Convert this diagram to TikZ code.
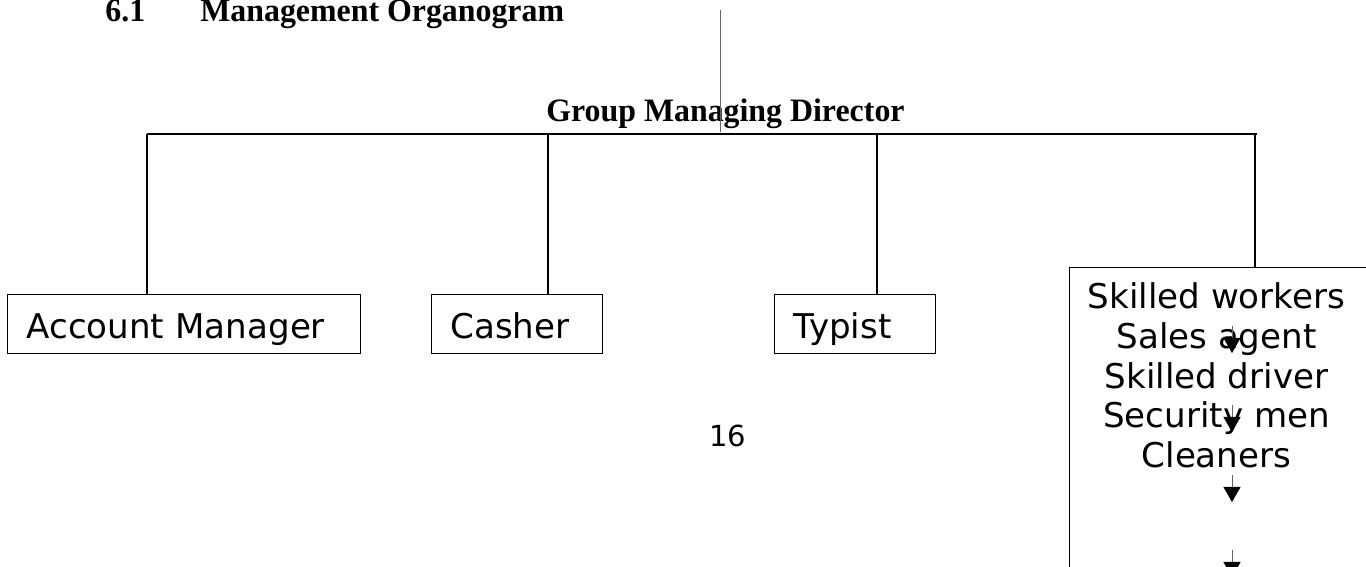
\documentclass[tikz,border=0pt]{standalone}
\usepackage{fontspec}
\setmainfont{Liberation Serif}
\newfontfamily\boxfont{DejaVu Sans}
\newfontfamily\headfont[FakeStretch=0.975]{Liberation Serif Bold}
\usepackage{tikz}
\usetikzlibrary{arrows.meta}

\tikzset{
    orgbox/.style={
        draw,
        line width=0.6pt,
        anchor=north west,
        inner xsep=0.38cm,
        inner ysep=0pt,
        text height=0.88cm,
        text depth=0.30cm,
        text width=#1,
        align=left,
        font=\boxfont\fontsize{19.4}{22.7}\selectfont
    },
    link/.style={
        line width=0.6pt,
        black
    },
    headtext/.style={
        anchor=base west,
        inner sep=0pt,
        font=\headfont\fontsize{18.6}{20}\selectfont
    },
    downarrow/.style={
        -{Triangle[width=0.34cm,length=0.30cm,black]},
        line width=0.5pt,
        black!60
    }
}

\begin{document}
\begin{tikzpicture}

\path[use as bounding box] (0,0) rectangle (27.32,11.34);
\clip (0,0) rectangle (27.32,11.34);

% ---------------- CAPCALERA ----------------

\node[headtext] (titlenum) at (2.1,10.91) {6.1};
\node[headtext] (titletext) at (4.0,10.91) {Management Organogram};

\node[headtext] (gmd) at (10.92,8.9) {Group Managing Director};

% linia vertical fina
\draw[
    line width=0.5pt,
    black!60
] (14.4,11.14) -- (14.4,8.70);


% ---------------- CAIXES ----------------

\node[orgbox=6.30cm] (accmgr) at (0.14,5.46) {Account Manager};
\node[orgbox=2.66cm] (casher) at (8.62,5.46) {Casher};
\node[orgbox=2.46cm] (typist) at (15.48,5.46) {Typist};

% caixa gran (talla per la dreta i per baix)
\node[
    draw,
    line width=0.6pt,
    anchor=north west,
    minimum width=6.1cm,
    minimum height=6.4cm
] (staffbox) at (21.38,6.0) {};

\node[
    anchor=north,
    inner sep=0pt,
    align=center,
    font=\boxfont\fontsize{19.4}{22.7}\selectfont
] (stafflist) at (24.33,5.70) {Skilled workers\\Sales agent\\Skilled driver\\Security men\\Cleaners};


% ---------------- CONNEXIONS ----------------

\draw[link] (2.94,8.66) -- (25.14,8.66);

\foreach \tap/\unit in {2.94/accmgr, 10.96/casher, 17.54/typist, 25.10/staffbox}
    \draw[link] (\tap,8.66) -- (\tap,0 |- \unit.north);

% fletxes petites
\foreach \ytop in {4.82, 3.24, 1.84, 0.34}
    \draw[downarrow] (24.64,\ytop) -- ++(0,-0.54);


% ---------------- PAGINA ----------------

\node[
    anchor=base,
    inner sep=0pt,
    font=\boxfont\fontsize{16.5}{19}\selectfont
] (pagenum) at (14.56,2.40) {16};

\end{tikzpicture}
\end{document}
